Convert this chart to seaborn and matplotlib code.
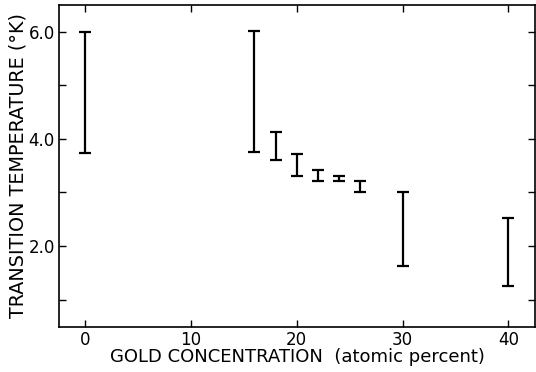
import numpy as np
import pandas as pd
import matplotlib
matplotlib.use("Agg")
import matplotlib.pyplot as plt
import seaborn as sns

# Data (gold concentration, Tc range in K)
gold_pct = [0, 16, 18, 20, 22, 24, 26, 30, 40]
tc_low = [3.73, 3.75, 3.61, 3.31, 3.21, 3.22, 3.01, 1.63, 1.25]
tc_high = [6.00, 6.02, 4.12, 3.72, 3.41, 3.31, 3.21, 3.01, 2.52]

x_ticks = [0, 10, 20, 30, 40]
y_ticks = [1, 2, 3, 4, 5, 6]
y_ticklabels = ["", "2.0", "", "4.0", "", "6.0"]

df = pd.DataFrame({
    "gold": gold_pct + gold_pct,
    "tc": tc_low + tc_high,
})

sns.set_style("ticks")
plt.rcParams["font.family"] = ["DejaVu Sans"]
plt.rcParams["text.color"] = "black"
plt.rcParams["axes.labelcolor"] = "black"

fig = plt.figure(figsize=(5.36, 3.72), dpi=100)
ax = fig.add_axes([0.110, 0.121, 0.888, 0.866])

sns.lineplot(
    data=df, x="gold", y="tc", ax=ax,
    estimator="mean", errorbar=("pi", 100), err_style="bars",
    color="black", linestyle="none", marker=None,
    err_kws={"capsize": 4, "elinewidth": 1.6, "capthick": 1.6},
)

ax.set_xlim(-2.45, 42.5)
ax.set_ylim(0.49, 6.5)
ax.set_xticks(x_ticks)
ax.set_xticklabels([str(v) for v in x_ticks])
ax.set_yticks(y_ticks)
ax.set_yticklabels(y_ticklabels)
ax.tick_params(direction="in", length=5, width=1.0, top=True, right=True,
               labelsize=12, colors="black", pad=3)
for s in ax.spines.values():
    s.set_visible(True)
    s.set_linewidth(1.2)
    s.set_color("black")

ax.set_xlabel("GOLD CONCENTRATION  (atomic percent)", fontsize=13, labelpad=-1,
              color="black")
ax.set_ylabel("TRANSITION TEMPERATURE (°K)", fontsize=13.8, labelpad=1,
              color="black")

fig.savefig("out.png", dpi=100)
